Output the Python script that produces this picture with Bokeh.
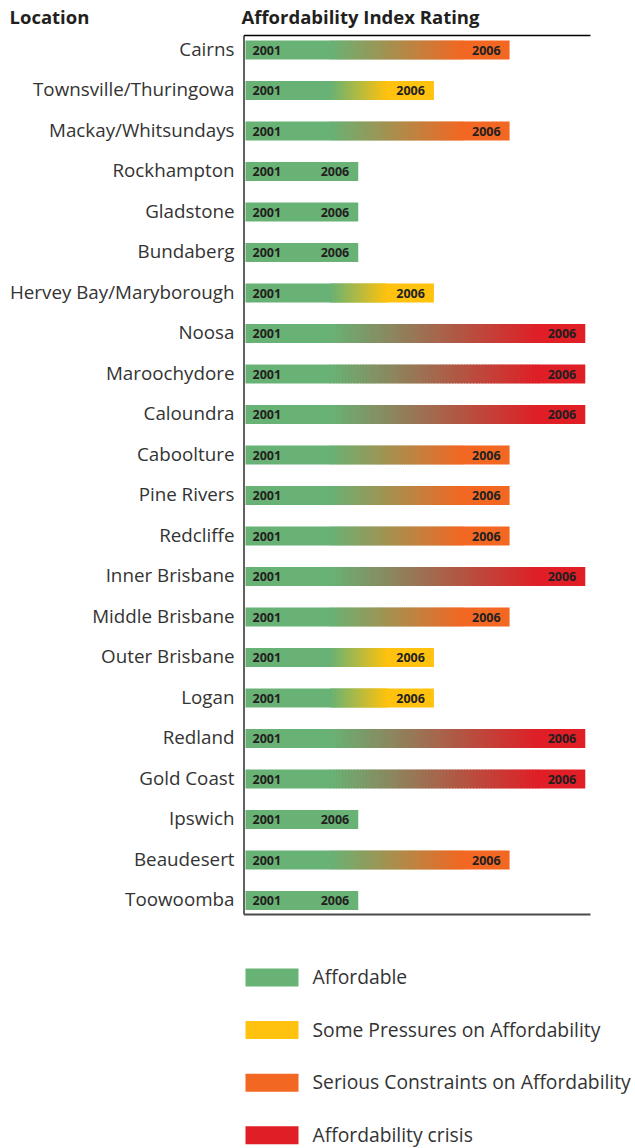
from bokeh.plotting import figure
from bokeh.models import Range1d, ColumnDataSource
from bokeh.embed import file_html
from bokeh.resources import INLINE
from bokeh.core.properties import value

# ---- data -------------------------------------------------------------
locations = [
    "Cairns", "Townsville/Thuringowa", "Mackay/Whitsundays", "Rockhampton",
    "Gladstone", "Bundaberg", "Hervey Bay/Maryborough", "Noosa",
    "Maroochydore", "Caloundra", "Caboolture", "Pine Rivers", "Redcliffe",
    "Inner Brisbane", "Middle Brisbane", "Outer Brisbane", "Logan",
    "Redland", "Gold Coast", "Ipswich", "Beaudesert", "Toowoomba",
]
# affordability index rating (1 = affordable ... 4 = crisis)
rating_2001 = [1] * 22
rating_2006 = [3, 2, 3, 1, 1, 1, 2, 4, 4, 4, 3, 3, 3, 4, 3, 2, 2, 4, 4, 1, 3, 1]
years = ["2001", "2006"]

levels = ["Affordable", "Some Pressures on Affordability",
          "Serious Constraints on Affordability", "Affordability crisis"]
level_colors = ["#68b275", "#ffc20e", "#f26722", "#e01e26"]

# ---- geometry ---------------------------------------------------------
W, H = 635, 1148
UNIT_PX = 75.67         # pixels per rating step
ROW_PX = 40.5           # pixels per row
LEFT_PX = 245           # bar origin
ROW0_PX = 49.5          # centre of first row


def px_x(px):
    return (px - LEFT_PX) / UNIT_PX


def px_y(px):
    return (px - ROW0_PX) / ROW_PX


BAR_H = 19 / ROW_PX
GREEN_HOLD = 1.12       # solid green span at bar start
END_HOLD = 0.62         # solid end-colour span at bar end
N_SLICES = 70

TEXT_COL = "#333333"
DARK = "#231f20"
FONT = "Open Sans"


def hex_rgb(h):
    h = h.lstrip("#")
    return tuple(int(h[i:i + 2], 16) for i in (0, 2, 4))


def mix(c1, c2, t):
    a, b = hex_rgb(c1), hex_rgb(c2)
    return "#%02x%02x%02x" % tuple(round(a[i] + (b[i] - a[i]) * t) for i in range(3))


def bar_end(r):
    return r + 0.49


n = len(locations)
rows = list(range(n))

# gradient slices for each bar, running from the 2001 colour to the 2006 colour
left, right, top, bottom, colors = [], [], [], [], []


def add(l, r, y, c):
    left.append(l); right.append(r); colors.append(c)
    top.append(y - BAR_H / 2); bottom.append(y + BAR_H / 2)


for y, r0, r1 in zip(rows, rating_2001, rating_2006):
    c0 = level_colors[r0 - 1]
    c1 = level_colors[r1 - 1]
    end = bar_end(r1)
    if r1 == r0:
        add(0, end, y, c0)
        continue
    g0, g1 = GREEN_HOLD, end - END_HOLD
    add(0, g0 + 0.01, y, c0)
    step = (g1 - g0) / N_SLICES
    for k in range(N_SLICES):
        a = g0 + k * step
        add(a, a + step + 0.012, y, mix(c0, c1, (k + 0.5) / N_SLICES))
    add(g1, end, y, c1)

bars = ColumnDataSource(dict(left=left, right=right, top=top, bottom=bottom, color=colors))

p = figure(width=W, height=H,
           x_range=Range1d(px_x(0), px_x(W)), y_range=Range1d(px_y(H), px_y(0)),
           min_border=0, output_backend="svg", toolbar_location=None)
p.outline_line_color = None
p.grid.visible = False
p.axis.visible = False

p.quad(left="left", right="right", top="top", bottom="bottom",
       fill_color="color", line_color=None, source=bars)

# year labels inside the bars
p.text(x=[0] * n, y=rows, text=[years[0]] * n, x_offset=7,
       text_baseline="middle", text_align="left",
       text_font=value(FONT), text_font_style="bold",
       text_font_size="12.5px", text_color=DARK)
p.text(x=[bar_end(r) for r in rating_2006], y=rows, text=[years[1]] * n, x_offset=-9,
       text_baseline="middle", text_align="right",
       text_font=value(FONT), text_font_style="bold",
       text_font_size="12.5px", text_color=DARK)

# location labels
p.text(x=[0] * n, y=rows, text=locations, x_offset=-11, y_offset=-1.5,
       text_baseline="middle", text_align="right",
       text_font=value(FONT), text_font_size="18.8px", text_color=TEXT_COL)

# frame lines: left, top, bottom
ax_left = px_x(243.5)
ax_right = px_x(590)
ax_top = px_y(35)
ax_bot = px_y(914)
p.segment(x0=[ax_left], y0=[ax_top], x1=[ax_left], y1=[ax_bot],
          line_color="#3a3a3a", line_width=1.6)
p.segment(x0=[ax_left], y0=[ax_top], x1=[ax_right], y1=[ax_top],
          line_color="black", line_width=1.5)
p.segment(x0=[ax_left], y0=[ax_bot], x1=[ax_right], y1=[ax_bot],
          line_color="#4a4a4a", line_width=2)

# column headers
hy = px_y(16)
p.text(x=[px_x(9), px_x(241)], y=[hy, hy],
       text=["Location", "Affordability Index Rating"],
       text_baseline="middle", text_align="left",
       text_font=value(FONT), text_font_style="bold",
       text_font_size="18.5px", text_color=DARK)

# legend
leg_y0 = px_y(977)
leg_step = 52.6 / ROW_PX
leg_y = [leg_y0 + i * leg_step for i in range(len(levels))]
sw_h = 18 / ROW_PX
p.quad(left=px_x(245), right=px_x(298),
       top=[y - sw_h / 2 for y in leg_y], bottom=[y + sw_h / 2 for y in leg_y],
       fill_color=level_colors, line_color=None)
p.text(x=px_x(312), y=leg_y, text=levels, text_baseline="middle", text_align="left",
       y_offset=-1,
       text_font=value(FONT), text_font_size="19.3px", text_color=TEXT_COL)

open("out.html", "w").write(file_html(p, INLINE))
